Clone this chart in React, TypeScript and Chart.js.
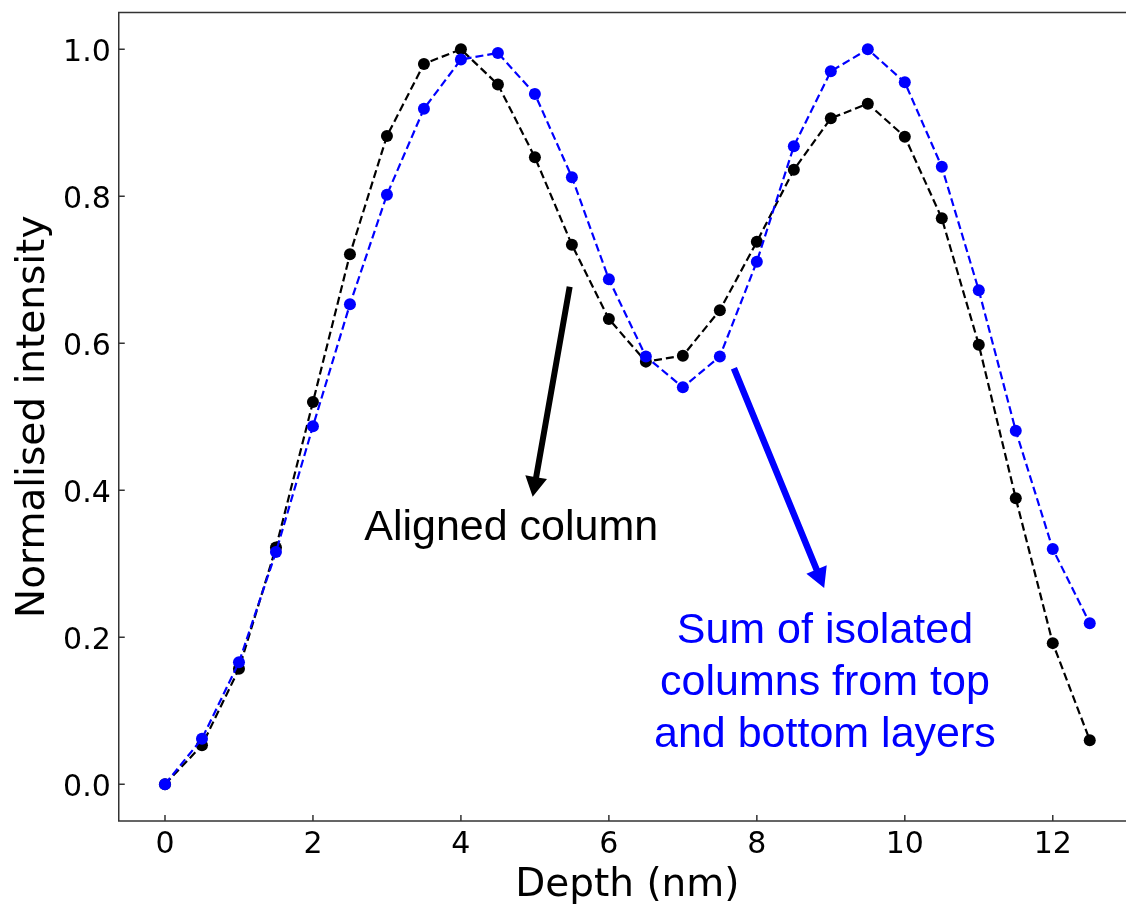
import React, { useEffect, useRef } from "react";
import { Chart, registerables } from "chart.js";

Chart.register(...registerables);

// ---- data ----
const depth = [0, 0.5, 1, 1.5, 2, 2.5, 3, 3.5, 4, 4.5, 5, 5.5, 6, 6.5, 7, 7.5, 8, 8.5, 9, 9.5, 10, 10.5, 11, 11.5, 12, 12.5];
const alignedColumn = [0, 0.053, 0.157, 0.322, 0.52, 0.721, 0.882, 0.98, 1.0, 0.952, 0.853, 0.734, 0.633, 0.575, 0.583, 0.645, 0.738, 0.836, 0.906, 0.926, 0.881, 0.77, 0.598, 0.389, 0.192, 0.06];
const sumIsolated = [0, 0.062, 0.166, 0.316, 0.487, 0.653, 0.802, 0.919, 0.986, 0.995, 0.939, 0.826, 0.687, 0.582, 0.54, 0.582, 0.711, 0.868, 0.97, 1.0, 0.955, 0.84, 0.672, 0.481, 0.32, 0.219];

const xTicks = [0, 2, 4, 6, 8, 10, 12];
const xTickLabels = ["0", "2", "4", "6", "8", "10", "12"];
const yTicks = [0, 0.2, 0.4, 0.6, 0.8, 1.0];
const yTickLabels = ["0.0", "0.2", "0.4", "0.6", "0.8", "1.0"];

const xTitle = "Depth (nm)";
const yTitle = "Normalised intensity";

const alignedText = "Aligned column";
const alignedTextAt = [4.68, 0.332];
const alignedArrowFrom = [5.47, 0.677];
const alignedArrowTo = [4.97, 0.391];

const sumTextLines = ["Sum of isolated", "columns from top", "and bottom layers"];
const sumTextAt = [8.92, 0.192];
const sumArrowFrom = [7.69, 0.566];
const sumArrowTo = [8.91, 0.267];

const BLUE = "#0000ff";
const BLACK = "#000000";
const SPINE = "#333333";
const TICK_FONT = '30px "DejaVu Sans"';
const TITLE_FONT = '39px "DejaVu Sans"';
const ANN_FONT = '43px "Liberation Sans", Arial, sans-serif';

function drawArrow(ctx: CanvasRenderingContext2D, x1: number, y1: number, x2: number, y2: number, color: string, w: number, hw: number, hl: number) {
  const dx = x2 - x1;
  const dy = y2 - y1;
  const len = Math.hypot(dx, dy);
  const ux = dx / len;
  const uy = dy / len;
  const nx = -uy;
  const ny = ux;
  const bx = x2 - ux * hl;
  const by = y2 - uy * hl;
  ctx.save();
  ctx.fillStyle = color;
  ctx.beginPath();
  ctx.moveTo(x1 + nx * w / 2, y1 + ny * w / 2);
  ctx.lineTo(bx + nx * w / 2, by + ny * w / 2);
  ctx.lineTo(bx + nx * hw / 2, by + ny * hw / 2);
  ctx.lineTo(x2, y2);
  ctx.lineTo(bx - nx * hw / 2, by - ny * hw / 2);
  ctx.lineTo(bx - nx * w / 2, by - ny * w / 2);
  ctx.lineTo(x1 - nx * w / 2, y1 - ny * w / 2);
  ctx.closePath();
  ctx.fill();
  ctx.restore();
}

const decorPlugin = {
  id: "decor",
  afterDraw(chart: any) {
    const ctx: CanvasRenderingContext2D = chart.ctx;
    const { left, right, top, bottom } = chart.chartArea;
    const xs = chart.scales.x;
    const ys = chart.scales.y;
    const px = (v: number) => xs.getPixelForValue(v);
    const py = (v: number) => ys.getPixelForValue(v);

    ctx.save();
    // spines
    ctx.strokeStyle = SPINE;
    ctx.lineWidth = 1.5;
    ctx.strokeRect(left, top, right - left, bottom - top);

    // inward ticks
    const tl = 6;
    ctx.beginPath();
    xTicks.forEach((v) => {
      const x = px(v);
      ctx.moveTo(x, bottom);
      ctx.lineTo(x, bottom - tl);
    });
    yTicks.forEach((v) => {
      const y = py(v);
      ctx.moveTo(left, y);
      ctx.lineTo(left + tl, y);
    });
    ctx.stroke();

    // tick labels
    ctx.fillStyle = BLACK;
    ctx.font = TICK_FONT;
    ctx.textBaseline = "alphabetic";
    ctx.textAlign = "center";
    xTicks.forEach((v, i) => {
      ctx.fillText(xTickLabels[i], px(v), bottom + 32);
    });
    ctx.textAlign = "right";
    yTicks.forEach((v, i) => {
      ctx.fillText(yTickLabels[i], left - 8, py(v) + 11.5);
    });

    // axis titles
    ctx.font = TITLE_FONT;
    ctx.textAlign = "center";
    ctx.fillText(xTitle, (left + right) / 2, 896);
    ctx.save();
    ctx.translate(44, (top + bottom) / 2);
    ctx.rotate(-Math.PI / 2);
    ctx.fillText(yTitle, 0, 0);
    ctx.restore();

    // annotations
    drawArrow(ctx, px(alignedArrowFrom[0]), py(alignedArrowFrom[1]), px(alignedArrowTo[0]), py(alignedArrowTo[1]), BLACK, 6, 22, 20);
    drawArrow(ctx, px(sumArrowFrom[0]), py(sumArrowFrom[1]), px(sumArrowTo[0]), py(sumArrowTo[1]), BLUE, 6.5, 22, 20);

    ctx.font = ANN_FONT;
    ctx.textAlign = "center";
    ctx.fillStyle = BLACK;
    ctx.fillText(alignedText, px(alignedTextAt[0]), py(alignedTextAt[1]));
    ctx.fillStyle = BLUE;
    sumTextLines.forEach((line, i) => {
      ctx.fillText(line, px(sumTextAt[0]), py(sumTextAt[1]) + i * 52);
    });
    ctx.restore();
  },
};

export default function App() {
  const canvasRef = useRef<HTMLCanvasElement | null>(null);

  useEffect(() => {
    const canvas = canvasRef.current;
    if (!canvas) return;
    const chart = new Chart(canvas, {
      type: "line",
      data: {
        datasets: [
          {
            label: "Sum of isolated columns",
            data: depth.map((x, i) => ({ x, y: sumIsolated[i] })),
            borderColor: BLUE,
            backgroundColor: BLUE,
            borderWidth: 2.2,
            borderDash: [8, 4],
            pointRadius: 6,
            pointBackgroundColor: BLUE,
            pointBorderWidth: 0,
            tension: 0,
            fill: false,
          },
          {
            label: "Aligned column",
            data: depth.map((x, i) => ({ x, y: alignedColumn[i] })),
            borderColor: BLACK,
            backgroundColor: BLACK,
            borderWidth: 2.2,
            borderDash: [8, 4],
            pointRadius: 6,
            pointBackgroundColor: BLACK,
            pointBorderWidth: 0,
            tension: 0,
            fill: false,
          },
        ],
      },
      options: {
        responsive: false,
        animation: false,
        devicePixelRatio: 1,
        layout: { padding: { left: 0, top: 12.5, right: 14, bottom: 0 } },
        plugins: { legend: { display: false }, tooltip: { enabled: false } },
        scales: {
          x: {
            type: "linear",
            min: -0.625,
            max: 13.125,
            grid: { display: false },
            border: { display: false },
            ticks: { display: false },
            afterFit: (s: any) => {
              s.height = 84;
            },
          },
          y: {
            type: "linear",
            min: -0.05,
            max: 1.05,
            grid: { display: false },
            border: { display: false },
            ticks: { display: false },
            afterFit: (s: any) => {
              s.width = 118.75;
            },
          },
        },
      },
      plugins: [decorPlugin],
    } as any);
    return () => chart.destroy();
  }, []);

  return (
    <div style={{ position: "fixed", left: 0, top: 0, width: 1126, height: 905, overflow: "hidden", background: "#fff" }}>
      <canvas ref={canvasRef} width={1150} height={905} style={{ width: 1150, height: 905, display: "block" }} />
    </div>
  );
}
